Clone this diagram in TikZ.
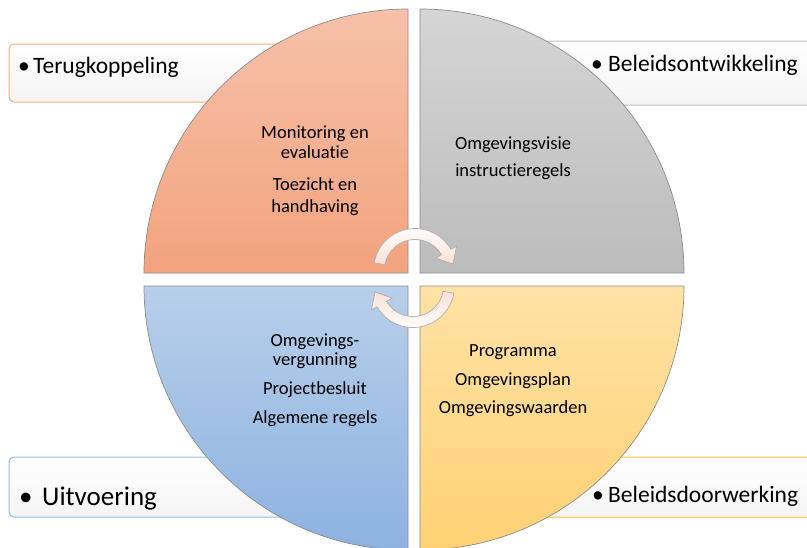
\documentclass[tikz,border=0pt]{standalone}
\usepackage{fontspec}
\setmainfont{Carlito}[RawFeature=-liga]
\definecolor{qTLt}{HTML}{F6C1A9}
\definecolor{qTLb}{HTML}{F3A37E}
\definecolor{qTRt}{HTML}{D5D5D5}
\definecolor{qTRb}{HTML}{BCBCBC}
\definecolor{qBLt}{HTML}{B8CFEA}
\definecolor{qBLb}{HTML}{8CB2E1}
\definecolor{qBRt}{HTML}{FFE2A6}
\definecolor{qBRb}{HTML}{FFD174}
\definecolor{qline}{HTML}{8C8C8C}
\definecolor{bOr}{HTML}{F4AE7E}
\definecolor{bGr}{HTML}{BEBEBE}
\definecolor{bBl}{HTML}{95BDE4}
\definecolor{bYe}{HTML}{F5C040}
\definecolor{arrPink}{HTML}{F9E0D6}
\definecolor{arrLine}{HTML}{AFAFAF}
\begin{document}
\begin{tikzpicture}[x=1pt,y=1pt,
  quad/.style={draw=qline, line width=0.7pt},
  lbox/.style={rounded corners=5pt, line width=1pt, top color=white, bottom color=white!96!black},
  lbl/.style={inner sep=0pt, anchor=base west, font=\fontsize{23.5}{28}\selectfont},
  inner/.style={inner sep=0pt, anchor=base, font=\fontsize{18.5}{20}\selectfont},
  cyc/.style={draw=arrLine, line width=0.7pt}]
\useasboundingbox (0,0) rectangle (807,-547);

% label boxes (behind the circle)
\draw[lbox, draw=bOr] (9,-44) rectangle (300,-102);
\draw[lbox, draw=bGr] (520,-41) rectangle (815,-105);
\draw[lbox, draw=bBl] (9,-457) rectangle (300,-517);
\draw[lbox, draw=bYe] (520,-457) rectangle (815,-517);

% quadrants
\path[quad, top color=qTLt, bottom color=qTLb]
  (408,-273) -- (144,-273) arc[start angle=180, end angle=90, radius=264] -- cycle;
\path[quad, top color=qTRt, bottom color=qTRb]
  (420,-273) -- (420,-9) arc[start angle=90, end angle=0, radius=264] -- cycle;
\path[quad, top color=qBLt, bottom color=qBLb]
  (408,-286) -- (408,-550) arc[start angle=270, end angle=180, radius=264] -- cycle;
\path[quad, top color=qBRt, bottom color=qBRb]
  (420,-286) -- (684,-286) arc[start angle=0, end angle=-90, radius=264] -- cycle;

% label texts
\node[lbl] (terug) at (18,-73) {\makebox[15pt][l]{•}Terugkoppeling};
\node[lbl] (beleidsont) at (591,-71) {\makebox[17pt][l]{•}Beleidsontwikkeling};
\node[lbl, font=\fontsize{27}{32}\selectfont] (uitv) at (19,-505) {\makebox[23pt][l]{•}Uitvoering};
\node[lbl] (beleidsdoor) at (592,-502) {\makebox[16pt][l]{•}Beleidsdoorwerking};

% quadrant texts
\foreach \t/\y [count=\i] in {Monitoring en/138, evaluatie/158, Toezicht en/190, handhaving/212}
  \node[inner] (tl\i) at (315,-\y) {\t};
\foreach \t/\y [count=\i] in {Omgevingsvisie/149, instructieregels/176}
  \node[inner] (tr\i) at (513,-\y) {\t};
\foreach \t/\y [count=\i] in {Omgevings-/346, vergunning/365, Projectbesluit/394, Algemene regels/423}
  \node[inner] (bl\i) at (315,-\y) {\t};
\foreach \t/\y [count=\i] in {Programma/356, Omgevingsplan/385, Omgevingswaarden/413}
  \node[inner] (br\i) at (513,-\y) {\t};

% circular arrows
\begin{scope}[shift={(415,-270)}]
  \path[cyc, top color=white, bottom color=arrPink]
    (170:41.5) arc[start angle=170, end angle=30, radius=41.5]
    -- (30:48) -- (38,6) -- (30:24) -- (30:30.5)
    arc[start angle=30, end angle=170, radius=30.5] -- cycle;
\end{scope}
\begin{scope}[shift={(413,-286)}]
  \path[cyc, top color=arrPink, bottom color=white]
    (350:41.5) arc[start angle=350, end angle=210, radius=41.5]
    -- (210:48) -- (-38,-6) -- (210:24) -- (210:30.5)
    arc[start angle=210, end angle=350, radius=30.5] -- cycle;
\end{scope}
\end{tikzpicture}
\end{document}
